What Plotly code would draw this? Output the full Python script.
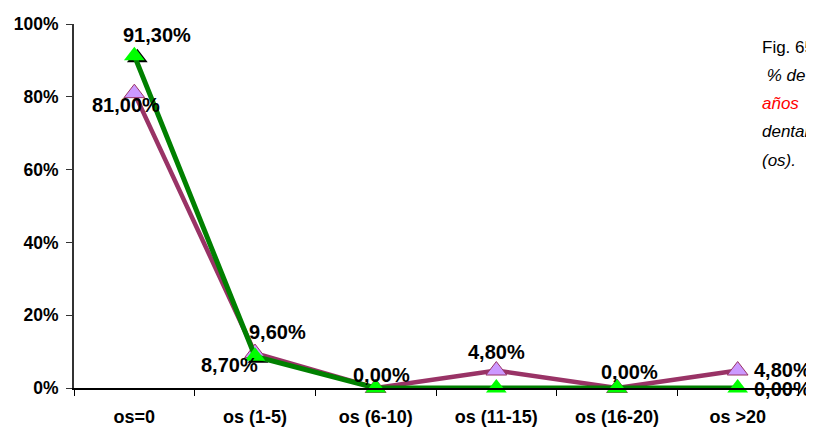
import plotly.graph_objects as go

categories = ["os=0", "os (1-5)", "os (6-10)", "os (11-15)", "os (16-20)", "os >20"]
serie_a = [81.0, 9.6, 0.0, 4.8, 0.0, 4.8]   # morada
serie_b = [91.3, 8.7, 0.0, 0.0, 0.0, 0.0]   # verde
y_ticks = [0, 20, 40, 60, 80, 100]

# etiquetas visibles: (serie, indice, desplazamiento x, desplazamiento y)
etiquetas = [
    ("b", 0, 23, 21),
    ("a", 0, -8, -12),
    ("a", 1, 22, 21),
    ("b", 1, -26, -9),
    ("a", 2, 6, 13),
    ("a", 3, 0, 19),
    ("a", 4, 12, 16),
    ("a", 5, 45, 1),
    ("b", 5, 45, -1),
]

texto_lateral = [
    ("Fig. 65", "black", False),
    (" % de niños de", "black", True),
    ("años", "red", True),
    ("dentales obturados", "black", True),
    ("(os).", "black", True),
]


def fmt(v):
    return f"{v:.2f}".replace(".", ",") + "%"


def main() -> None:
    fig = go.Figure()
    idx = list(range(len(categories)))

    # sombra de los triángulos verdes (ejes base desplazados)
    fig.add_trace(go.Scatter(
        x=idx, y=serie_b, mode="markers", xaxis="x", yaxis="y",
        marker=dict(symbol="triangle-up", size=18, color="black"),
        cliponaxis=False, hoverinfo="skip",
    ))

    fig.add_trace(go.Scatter(
        x=idx, y=serie_a, mode="lines+markers", xaxis="x2", yaxis="y2",
        line=dict(color="#993366", width=4.5),
        marker=dict(symbol="triangle-up", size=18, color="#CC99FF",
                    line=dict(color="#993366", width=1)),
        cliponaxis=False,
    ))
    fig.add_trace(go.Scatter(
        x=idx, y=serie_b, mode="lines+markers", xaxis="x2", yaxis="y2",
        line=dict(color="#008000", width=5),
        marker=dict(symbol="triangle-up", size=18, color="#00FF00"),
        cliponaxis=False,
    ))

    for serie, i, dx, dy in etiquetas:
        vals = serie_a if serie == "a" else serie_b
        fig.add_annotation(
            x=i, y=vals[i], xref="x2", yref="y2", text=fmt(vals[i]),
            showarrow=False, xshift=dx, yshift=dy,
            font=dict(family="Liberation Sans, Arial", size=20, color="black",
                      weight="bold"),
        )

    for k, (txt, col, ital) in enumerate(texto_lateral):
        fig.add_annotation(
            x=0.9475, y=1 - (47 - 24 + 28.3 * k) / 364, xref="paper", yref="paper",
            xanchor="left", yanchor="middle", text=f"<i>{txt}</i>" if ital else txt,
            showarrow=False,
            font=dict(family="Liberation Sans, Arial", size=17, color=col),
        )

    u = 6 / 724
    v = 100 / 364
    fig.update_layout(
        width=806, height=422,
        margin=dict(l=66, r=16, t=16, b=42, autoexpand=False),
        paper_bgcolor="white", plot_bgcolor="white",
        showlegend=False,
        font=dict(family="Liberation Sans, Arial", size=18, color="black"),
        xaxis=dict(range=[-0.5 - 3 * u, 5.5 - 3 * u], visible=False,
                   automargin=False),
        yaxis=dict(range=[0 + 2 * v, 100 + 2 * v], visible=False,
                   automargin=False),
        xaxis2=dict(
            overlaying="x", anchor="y2", range=[-0.5, 5.5], automargin=False,
            tickvals=idx, ticktext=categories, ticks="",
            minor=dict(tickvals=[i + 0.5 for i in range(-1, 6)], ticks="outside",
                       ticklen=6, tickcolor="black"),
            showline=True, linecolor="black", linewidth=1.5,
            showgrid=False, zeroline=False, ticklabelstandoff=12,
            tickfont=dict(size=18, weight="bold"),
        ),
        yaxis2=dict(
            overlaying="y", anchor="x2", range=[0, 100], automargin=False,
            tickvals=y_ticks, ticktext=[f"{t}%" for t in y_ticks],
            ticks="outside", ticklen=6, tickcolor="#333333",
            showline=True, linecolor="#333333", linewidth=2,
            showgrid=False, zeroline=False, ticklabelstandoff=4,
            tickfont=dict(size=17.5, weight="bold"),
        ),
    )

    fig.write_html("out.html")


if __name__ == "__main__":
    main()
